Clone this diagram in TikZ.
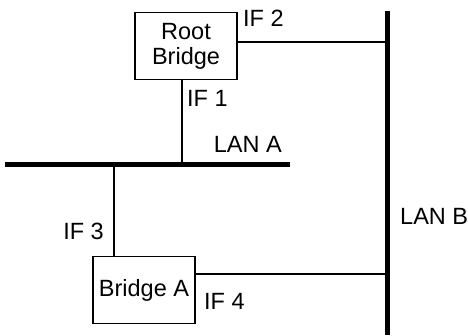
\documentclass[tikz,border=0pt]{standalone}
\usepackage{fontspec}
\setmainfont{Liberation Sans}
\usepackage{tikz}
\usetikzlibrary{positioning}

\tikzset{
  bridge/.style={draw, line width=1.8pt, minimum width=102pt, minimum height=67pt,
    inner sep=0pt, align=center, font=\fontsize{23.5}{25}\selectfont},
  lbl/.style={inner sep=0pt, font=\fontsize{23.5}{25}\selectfont},
  lan/.style={line width=5pt},
  link/.style={line width=1.8pt},
}

\begin{document}
\begin{tikzpicture}[x=1pt,y=1pt]
    \useasboundingbox (0,0) rectangle (468,335);
    % the two LANs
    \coordinate (lana-w) at (5,170);
    \coordinate (lana-e) at (290,170);
    \coordinate (lanb-n) at (387,324);
    \coordinate (lanb-s) at (387,0);
    \draw[lan] (lana-w) -- (lana-e);
    \draw[lan] (lanb-n) -- (lanb-s);
    \node[lbl, anchor=east] (lana) at (282,191) {LAN A};
    \node[lbl, anchor=west] (lanb) at (400,119) {LAN B};
    % bridges
    \node[bridge] (root) at (186,289) {Root\\Bridge};
    \node[bridge] (brga) at (144,45) {Bridge A};
    % interfaces
    \coordinate (if1) at ([xshift=-4pt]root.south);
    \coordinate (if2) at ([yshift=4pt]root.east);
    \coordinate (if3) at ([xshift=-30pt]brga.north);
    \coordinate (if4) at ([yshift=16pt]brga.east);
    \draw[link] (if1) -- (if1 |- lana-w);
    \draw[link] (if2) -- (if2 -| lanb-n);
    \draw[link] (if3) -- (if3 |- lana-w);
    \draw[link] (if4) -- (if4 -| lanb-n);
    \node[lbl, anchor=west] (if1l) at (187,237) {IF 1};
    \node[lbl, anchor=west] (if2l) at (243,317) {IF 2};
    \node[lbl, anchor=east] (if3l) at (104,104) {IF 3};
    \node[lbl, anchor=west] (if4l) at (204,34) {IF 4};
\end{tikzpicture}
\end{document}
